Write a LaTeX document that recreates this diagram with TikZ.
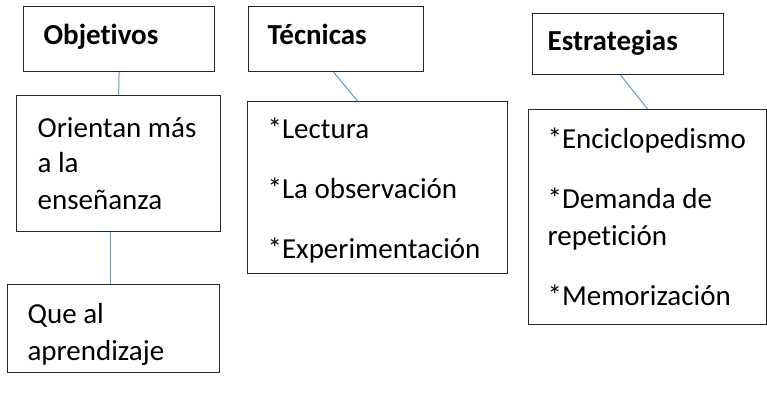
\documentclass[tikz,border=0pt]{standalone}
\usepackage{fontspec}
\setmainfont{Carlito}[Ligatures=NoCommon]
\usepackage{tikz}

\definecolor{linkblue}{RGB}{91,155,213}
\tikzset{
  box/.style={draw=black!85, line width=1.2pt, anchor=north west, inner ysep=0pt,
    align=flush left, font=\fontsize{29}{37}\selectfont},
  title/.style={box, font=\bfseries\fontsize{29}{37}\selectfont},
  link/.style={draw=linkblue, line width=1pt}
}

\begin{document}
\begin{tikzpicture}[x=1pt,y=-1pt]
\useasboundingbox (0,0) rectangle (767,396);

% Headings (left to right)
\node[title, inner xsep=20pt, text width=151pt, text height=38pt, text depth=27pt] (obj) at (23,6) {Objetivos};
\node[title, inner xsep=19pt, text width=137pt, text height=38pt, text depth=27pt] (tec) at (248,6) {Técnicas};
\node[title, inner xsep=15pt, text width=161pt, text height=37pt, text depth=24pt] (est) at (532,13) {Estrategias};

% Boxes below the headings
\node[box, inner xsep=21pt, text width=162pt, text height=42pt, text depth=94pt] (orient) at (16,95)
  {Orientan más\\[-2pt] a la\\ enseñanza};
\node[box, inner xsep=20pt, text width=172pt, text height=39pt, text depth=49pt] (que) at (7,284)
  {Que al\\ aprendizaje};
\node[box, inner xsep=20pt, text width=220pt, text height=37pt, text depth=135pt] (lect) at (247,101)
  {*Lectura\\[23pt] *La observación\\[23pt] *Experimentación};
\node[box, inner xsep=19pt, text width=200pt, text height=39pt, text depth=176pt] (enci) at (528,109)
  {*Enciclopedismo\\[23pt] *Demanda de\\ repetición\\[23pt] *Memorización};

% Connectors
\draw[link] (obj.south) -- (orient.north);
\draw[link] ([xshift=-8pt]orient.south) -- ([xshift=-3pt]que.north);
\draw[link] ([xshift=-2.5pt]tec.south) -- ([xshift=-20pt]lect.north);
\draw[link] ([xshift=-7.5pt]est.south) -- (enci.north);

\end{tikzpicture}
\end{document}
